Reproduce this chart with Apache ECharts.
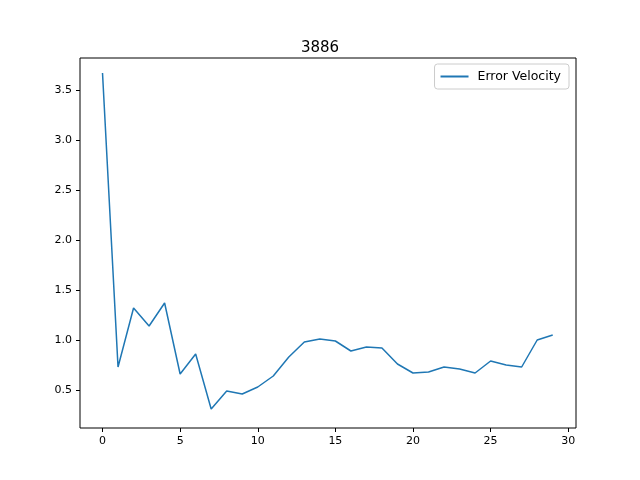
<!DOCTYPE html>
<html><head><meta charset="utf-8">
<script src="https://cdn.jsdelivr.net/npm/echarts@6/dist/echarts.min.js"></script>
<style>html,body{margin:0;padding:0;background:#fff}#c{width:640px;height:480px}</style>
</head><body><div id="c"></div>
<script>
const xs = [0,1,2,3,4,5,6,7,8,9,10,11,12,13,14,15,16,17,18,19,20,21,22,23,24,25,26,27,28,29];
const vals = [3.67,0.73,1.32,1.14,1.37,0.66,0.86,0.31,0.49,0.46,0.53,0.64,0.83,0.98,1.01,0.99,0.89,0.93,0.92,0.76,0.67,0.68,0.73,0.71,0.67,0.79,0.75,0.73,1.00,1.05];
const xTicks = [0,5,10,15,20,25,30];
const yTicks = [0.5,1.0,1.5,2.0,2.5,3.0,3.5];
const chart = echarts.init(document.getElementById('c'));
const ax = {color:'#000',fontSize:11,fontFamily:'DejaVu Sans'};
chart.setOption({
  animation:false,
  title:{text:'3886',left:'center',top:36,textStyle:{fontSize:15,fontWeight:'normal',color:'#000',fontFamily:'DejaVu Sans'}},
  legend:{data:['Error Velocity'],right:71,top:64,orient:'vertical',borderColor:'#ccc',borderWidth:1,borderRadius:3,padding:[6,8,6,6],itemGap:8,itemWidth:28,itemHeight:2,icon:'rect',textStyle:{fontSize:12.5,color:'#000',fontFamily:'DejaVu Sans',padding:[0,0,0,4]}},
  grid:{left:80,right:64,top:58,bottom:52},
  xAxis:{type:'value',min:-1.45,max:30.5,
    axisLine:{show:false,onZero:false},splitLine:{show:false},
    axisTick:{show:true,length:4,lineStyle:{color:'#000'},customValues:xTicks},
    axisLabel:{...ax,margin:8,customValues:xTicks,formatter:v=>String(Math.round(v))}},
  yAxis:{type:'value',min:0.12,max:3.82,
    axisLine:{show:false,onZero:false},splitLine:{show:false},
    axisTick:{show:true,length:4,lineStyle:{color:'#000'},customValues:yTicks},
    axisLabel:{...ax,margin:8,customValues:yTicks,formatter:v=>v.toFixed(1)}},
  graphic:[{type:'rect',shape:{x:80,y:58,width:496,height:370},style:{fill:'none',stroke:'#000',lineWidth:1},silent:true,z:100}],
  series:[{name:'Error Velocity',type:'line',data:xs.map((x,i)=>[x,vals[i]]),showSymbol:false,lineStyle:{color:'#1f77b4',width:1.5},itemStyle:{color:'#1f77b4'}}]
});
</script></body></html>
